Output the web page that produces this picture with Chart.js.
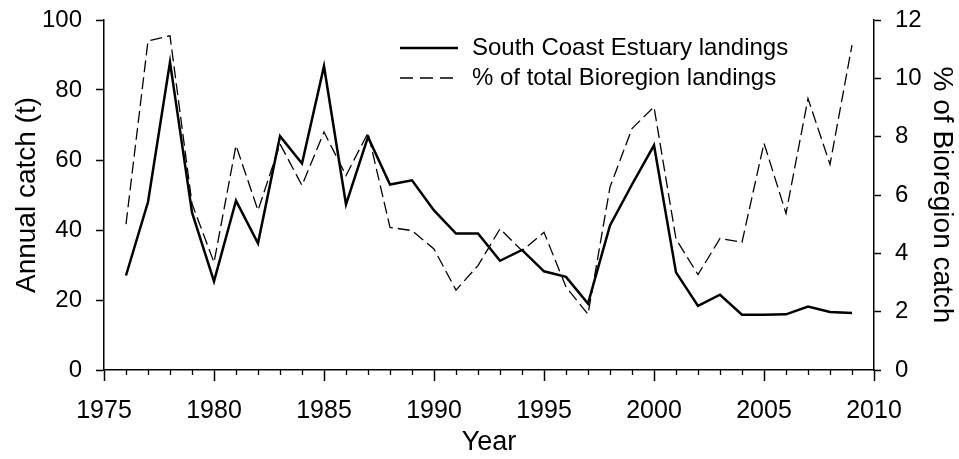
<!DOCTYPE html>
<html>
<head>
<meta charset="utf-8">
<script src="https://cdn.jsdelivr.net/npm/chart.js@4.4.1/dist/chart.umd.min.js"></script>
<style>
  body { margin: 0; background: #fff; }
  #wrap { width: 959px; height: 459px; }
</style>
</head>
<body>
<div id="wrap"><canvas id="catchChart" width="959" height="459"></canvas></div>
<script>
// years 1976-2009
var years = [1976, 1977, 1978, 1979, 1980, 1981, 1982, 1983, 1984, 1985,
             1986, 1987, 1988, 1989, 1990, 1991, 1992, 1993, 1994, 1995,
             1996, 1997, 1998, 1999, 2000, 2001, 2002, 2003, 2004, 2005,
             2006, 2007, 2008, 2009];

// South Coast Estuary landings (t), left axis
var catchT = [27, 48, 88, 45, 25.3, 48.4, 36.2, 66.8, 59, 86.8,
              47.3, 66.6, 53, 54.2, 45.6, 39, 39, 31.2, 34.3, 28.2,
              26.6, 19, 41.3, 53, 64.2, 27.9, 18.3, 21.5, 15.8, 15.8,
              15.9, 18.1, 16.6, 16.3];

// % of total Bioregion landings, right axis
var pctBio = [5.0, 11.28, 11.46, 5.7, 3.69, 7.7, 5.47, 7.75, 6.33, 8.16,
              6.67, 8.13, 4.89, 4.78, 4.15, 2.74, 3.58, 4.84, 4.09, 4.72,
              2.85, 1.91, 6.27, 8.28, 9.02, 4.49, 3.27, 4.51, 4.38, 7.78,
              5.37, 9.31, 7.05, 11.14];

var legendLabels = ["South Coast Estuary landings", "% of total Bioregion landings"];

var fontFam = "'Liberation Sans', Arial, Helvetica, sans-serif";
var dashPattern = [12, 5];

function toPoints(vals) {
  return years.map(function (yr, i) { return { x: yr, y: vals[i] }; });
}

// small ticks every year + legend in the top middle
var extras = {
  id: "extras",
  afterDraw: function (chart) {
    var ctx = chart.ctx;
    var xs = chart.scales.x;
    var bottom = chart.chartArea.bottom;
    ctx.save();
    ctx.strokeStyle = "#000";
    ctx.lineWidth = 1.3;
    for (var yr = 1976; yr < 2010; yr++) {
      if (yr % 5 === 0) continue;
      var px = Math.round(xs.getPixelForValue(yr)) + 0.5;
      ctx.beginPath();
      ctx.moveTo(px, bottom);
      ctx.lineTo(px, bottom + 5);
      ctx.stroke();
    }

    // legend
    ctx.font = "24px " + fontFam;
    ctx.fillStyle = "#000";
    ctx.textBaseline = "middle";
    ctx.textAlign = "left";
    ctx.lineWidth = 2.5;
    ctx.beginPath();
    ctx.moveTo(400, 48);
    ctx.lineTo(458, 48);
    ctx.stroke();
    ctx.fillText(legendLabels[0], 472, 48);

    ctx.lineWidth = 1.3;
    ctx.setLineDash([13, 7]);
    ctx.beginPath();
    ctx.moveTo(400, 78);
    ctx.lineTo(458, 78);
    ctx.stroke();
    ctx.setLineDash([]);
    ctx.fillText(legendLabels[1], 472, 78);
    ctx.restore();
  }
};

function fixV(w) {
  return function (s) { s.width = w; s.paddingTop = 0; s.paddingBottom = 0; };
}

var chart = new Chart(document.getElementById("catchChart"), {
  type: "line",
  data: {
    datasets: [
      {
        label: legendLabels[0],
        data: toPoints(catchT),
        yAxisID: "y",
        borderColor: "#000",
        borderWidth: 2.5,
        pointRadius: 0,
        tension: 0,
        fill: false
      },
      {
        label: legendLabels[1],
        data: toPoints(pctBio),
        yAxisID: "y2",
        borderColor: "#000",
        borderWidth: 1.3,
        borderDash: dashPattern,
        pointRadius: 0,
        tension: 0,
        fill: false
      }
    ]
  },
  options: {
    responsive: false,
    animation: false,
    events: [],
    layout: { padding: { top: 20, left: 0, right: 0, bottom: 0 } },
    plugins: {
      legend: { display: false },
      tooltip: { enabled: false }
    },
    scales: {
      x: {
        type: "linear",
        min: 1975,
        max: 2010,
        afterFit: function (s) { s.height = 89; s.paddingLeft = 0; s.paddingRight = 0; },
        ticks: {
          stepSize: 5,
          color: "#000",
          padding: 15,
          font: { family: fontFam, size: 25 },
          callback: function (v) { return String(v); }
        },
        grid: {
          drawOnChartArea: false,
          drawTicks: true,
          tickLength: 11,
          tickColor: "#000",
          tickWidth: 1.5
        },
        border: { display: true, color: "#000", width: 1.5 },
        title: {
          display: true,
          text: "Year",
          color: "#000",
          padding: { top: 0, bottom: 0 },
          font: { family: fontFam, size: 27 }
        }
      },
      y: {
        position: "left",
        min: 0,
        max: 100,
        afterFit: fixV(104),
        ticks: {
          stepSize: 20,
          color: "#000",
          padding: 14,
          font: { family: fontFam, size: 24 }
        },
        grid: {
          drawOnChartArea: false,
          tickLength: 8,
          tickColor: "#000",
          tickWidth: 1.5
        },
        border: { display: true, color: "#000", width: 1.5 },
        title: {
          display: true,
          text: "Annual catch (t)",
          color: "#000",
          padding: { top: 10, bottom: 0 },
          font: { family: fontFam, size: 28 }
        }
      },
      y2: {
        position: "right",
        min: 0,
        max: 12,
        afterFit: fixV(85),
        ticks: {
          stepSize: 2,
          color: "#000",
          padding: 14,
          font: { family: fontFam, size: 24 }
        },
        grid: {
          drawOnChartArea: false,
          tickLength: 7,
          tickColor: "#000",
          tickWidth: 1.5
        },
        border: { display: true, color: "#000", width: 1.5 },
        title: {
          display: true,
          text: "% of Bioregion catch",
          color: "#000",
          padding: { top: 0, bottom: 0 },
          font: { family: fontFam, size: 28 }
        }
      }
    }
  },
  plugins: [extras]
});
</script>
</body>
</html>
